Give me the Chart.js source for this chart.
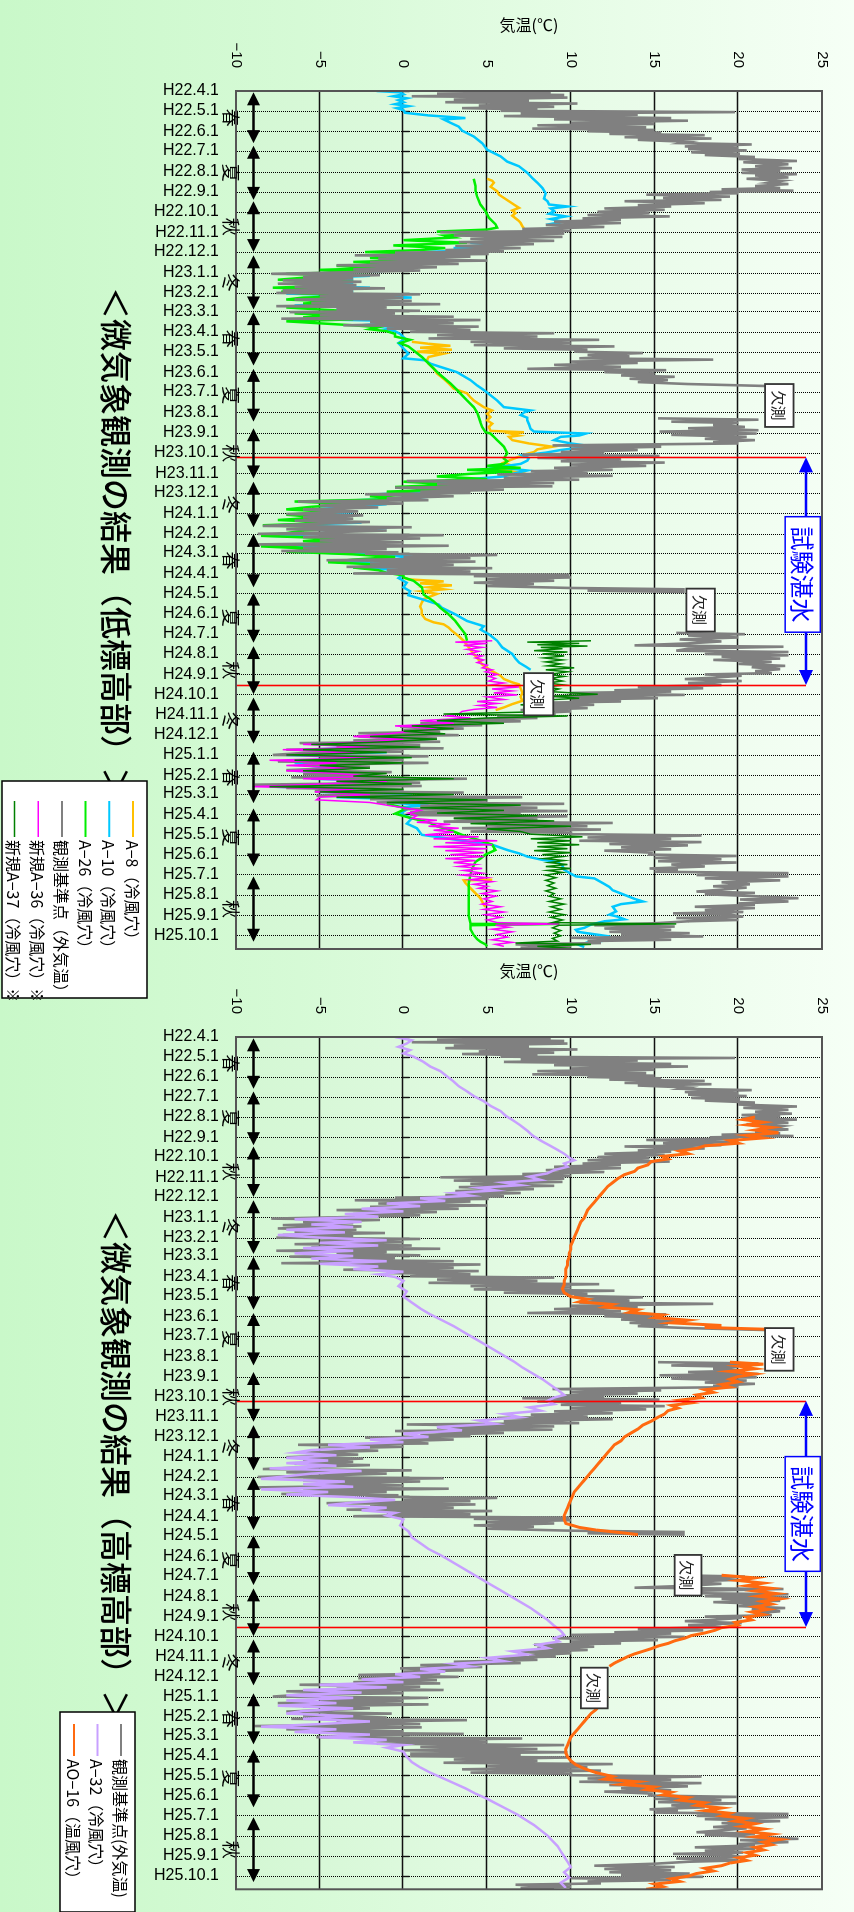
<!DOCTYPE html>
<html>
<head>
<meta charset="utf-8">
<script src="https://cdn.jsdelivr.net/npm/chart.js@4.4.1/dist/chart.umd.min.js"></script>
<style>
  html, body { margin: 0; padding: 0; }
  body {
    width: 854px; height: 1912px; overflow: hidden; position: relative;
    background: linear-gradient(to right, #c9f8c9 0%, #d6fad6 35%, #f6fff6 100%);
  }
  /* the two charts are laid out landscape and turned a quarter turn clockwise */
  #stage {
    position: absolute; left: 0; top: 0; width: 1912px; height: 854px;
    transform-origin: 0 0; transform: translate(854px, 0) rotate(90deg);
  }
  #stage canvas { position: absolute; top: 0; display: block; }
</style>
</head>
<body>
<div id="stage">
  <canvas id="low" width="1000" height="854" style="left:0"></canvas>
  <canvas id="high" width="972" height="854" style="left:940px"></canvas>
</div>
<script>
// ---- dates: x values are days counted from H22.4.1 (2010-04-01) ----
const START = Date.UTC(2010, 3, 1);
function dayOf(y, m, d) { return Math.round((Date.UTC(y, m - 1, d) - START) / 86400000); }
function heiseiDay(label) {
  const [h, m, d] = label.slice(1).split('.').map(Number);
  return dayOf(h + 1988, m, d);
}

const monthLabels = [
  'H22.4.1','H22.5.1','H22.6.1','H22.7.1','H22.8.1','H22.9.1','H22.10.1','H22.11.1','H22.12.1',
  'H23.1.1','H23.2.1','H23.3.1','H23.4.1','H23.5.1','H23.6.1','H23.7.1','H23.8.1','H23.9.1','H23.10.1','H23.11.1','H23.12.1',
  'H24.1.1','H24.2.1','H24.3.1','H24.4.1','H24.5.1','H24.6.1','H24.7.1','H24.8.1','H24.9.1','H24.10.1','H24.11.1','H24.12.1',
  'H25.1.1','H25.2.1','H25.3.1','H25.4.1','H25.5.1','H25.6.1','H25.7.1','H25.8.1','H25.9.1','H25.10.1'
];
const monthDays = monthLabels.map(heiseiDay);
const tempTicks = [-10, -5, 0, 5, 10, 15, 20, 25];
const tempTickLabels = ['\u221210', '\u22125', '0', '5', '10', '15', '20', '25'];

// season bands (day ranges) drawn as double arrows under the plot
const seasonNames = ['春','夏','秋','冬','春','夏','秋','冬','春','夏','秋','冬','春','夏','秋'];
const seasonFrom  = [2, 83, 167, 249, 335, 421, 511, 592, 671, 760, 841, 919, 1001, 1087, 1190];
const seasonTo    = [79, 165, 244, 331, 416, 501, 587, 661, 752, 836, 914, 989, 1079, 1175, 1289];

// test impoundment period (試験湛水)
const impoundFrom = dayOf(2011, 10, 8);
const impoundTo = dayOf(2012, 9, 17);

// ---- series: [day, °C]; null marks missing observations ----
const outdoorTemp = [
  [0,4],[2,8.8],[4,2],[6,9.6],[8,0.5],[10,9.8],[13,3],[15,7.5],[17,2.5],[19,10.4],[22,4.5],[24,9],[26,3.5],[28,8],
  [30,5.8],[32,19.8],[34,7],[36,14],[38,6],[41,16],[43,9],[45,17],[48,10],[50,15],[52,8],[55,14.5],[57,7.7],[59,15],
  [61,11],[63,15.4],[65,12.3],[67,18],[70,13.2],[72,18.4],[74,14],[77,17],[79,16.6],[81,20.8],[84,16.8],[86,20],[88,17],[90,20.5],
  [93,17.2],[95,20.1],[97,18],[100,21],[103,20],[106,23.5],[108,20.3],[111,23],[114,21],[117,23.2],[119,20.2],[121,22.5],
  [124,20.2],[126,23.5],[128,21],[131,23],[133,20.5],[136,22.6],[139,21.8],[141,23],[144,21],[147,22.5],[149,19],[151,23.3],
  [153,18.3],[155,20],[157,14.5],[160,19.5],[162,15.5],[165,19],[167,13.2],[170,18],[173,14],[175,16],[178,12],[180,15.6],
  [183,11.6],[185,14.7],[188,11],[190,15.9],[193,10.7],[195,13],[198,9],[200,13],[203,8.5],[206,12],[209,7.1],[212,10],
  [214,2.2],[216,9.6],[219,3],[221,9.5],[224,4],[227,9],[229,3.3],[232,7.8],[235,3.1],[238,7],[241,2.5],[243,6],
  [245,-0.5],[247,5.1],[249,-2.9],[251,4],[254,-1.5],[257,5],[259,-2],[262,3.3],[264,-4],[267,2],[270,-3],[272,1],
  [275,-4],[277,-7.9],[279,-1.4],[282,-6],[284,-3],[287,-7.2],[289,-2.5],[292,-7.5],[294,-2.8],[297,-6.5],[299,-1.1],[302,-7.2],[304,-3],
  [306,-7.6],[308,1],[311,-5],[313,0],[316,-6.5],[318,0.5],[321,-5.5],[323,2.2],[326,-7.6],[328,-1],[331,-4],[333,1],
  [335,-6.8],[337,-0.5],[340,-5],[342,3],[345,-7.3],[347,4.6],[350,-2],[352,3],[355,-3.6],[357,4.5],[360,-1],[362,4],
  [365,0.4],[367,9],[370,2],[372,8],[375,1.5],[377,11.7],[380,4],[382,10],[385,4.2],[387,12.6],[390,6],[392,11],
  [395,10.2],[397,14.3],[400,11],[402,13.5],[405,10.5],[407,18.5],[410,10],[412,14],[415,9],[418,13],[421,7.4],[423,15.7],
  [426,12],[428,15],[431,13],[433,16.2],[436,13.5],[438,15.8],[441,14],[444,17],[447,21.7],[448,null],
  [496,15.2],[498,21.2],[501,16],[503,20],[506,18.5],[509,20.4],[511,17],[514,21.2],[516,15.3],
  [519,21.1],[521,16],[524,20.5],[527,18],[529,21],[532,18.5],[534,20],[537,8.9],[539,15.4],[542,10],[544,14],[547,9.4],
  [549,12],[551,7.1],[553,15.3],[556,8],[558,13],[561,9.4],[563,15.6],[566,10],[568,14.5],[571,9],[574,12.5],[576,7.6],
  [579,11],[581,5.6],[583,12.5],[586,6],[589,10.5],[591,0.2],[594,9],[596,2],[599,8.9],[601,-0.5],[604,6],[607,1],
  [609,4],[611,-2.3],[614,3],[617,-1],[620,1.5],[622,-6.3],[625,0],[628,-5],[631,-1.5],[634,-6],[637,-2.7],[639,-5],
  [641,-7],[643,-2.4],[646,-6],[648,-3],[651,-6.5],[653,-2],[656,-5.5],[659,-8.4],[661,0.5],[664,-7],[666,-1],[669,-5],
  [671,-8.7],[673,2.4],[676,-6],[678,1],[681,-5],[684,0],[687,-8.7],[689,2.7],[692,-6],[694,-1],[697,-7.3],[699,-0.3],
  [701,-2.3],[703,5.6],[706,0],[708,4],[711,-4.6],[713,4.3],[716,-2],[718,3],[721,-3.4],[723,5.3],[726,-1],[728,4],[731,-3],
  [733,9.9],[735,4.2],[737,10],[740,5],[742,9],[745,4.2],[747,7.8],[750,5],[753,10],[755,16.8],[757,11],[759,16.8],[760,null],
  [821,16.3],[823,20.4],[825,17],[828,20],[831,16.5],[834,19],[837,17],[840,13.8],[842,22.7],[845,17],[848,16.3],[850,23],
  [853,18],[855,23],[857,19],[860,22.5],[862,18.5],[865,22],[868,20],[871,22.8],[873,20.8],[876,22.5],[879,21],[882,22],
  [884,18],[886,20.2],[889,18.5],[891,16.8],[894,20.2],[897,17],[900,19],[903,14],[905,17.9],[908,12.6],[910,16],[912,10],
  [915,16.8],[917,8.9],[920,15.2],[922,10],[925,13],[927,7.8],[930,11.4],[932,8],[935,11],[938,7],[940,10],[943,7.5],
  [945,9.1],[947,5.6],[950,8],[953,3],[955,7],[958,1],[961,4.7],[963,-0.2],[966,3.6],[968,0],[971,2.2],[973,-2.7],
  [976,3.3],[978,-2.7],[981,2],[984,-3],[986,2.2],[988,-6.2],[991,1],[994,-4],[996,2.4],[998,-7],[1001,0],[1003,-6],
  [1006,-7.8],[1008,1.5],[1011,-5],[1013,0],[1016,-7.5],[1018,1.5],[1021,-6],[1024,-2],[1027,-5],[1029,-7],[1032,-0.7],[1035,-6],
  [1038,-1],[1040,-6.7],[1042,3.8],[1045,-4],[1048,1],[1051,-8.9],[1053,1.1],[1056,-7],[1059,0],[1061,-5.3],[1063,3.6],[1065,-3],
  [1068,-5.2],[1070,7.1],[1073,-2],[1075,5],[1078,-1.6],[1080,9.6],[1083,1],[1086,8],[1088,0],[1091,9.8],[1093,0.4],[1095,7],
  [1097,0.4],[1099,9.8],[1102,3],[1104,8],[1107,2.4],[1109,12.5],[1112,5],[1114,11],[1117,3.5],[1119,11.8],[1122,4],[1124,10],
  [1126,10],[1128,17.8],[1131,11],[1133,16],[1136,10.5],[1138,17.8],[1141,12.3],[1143,17],[1146,13],[1149,16],[1151,12],[1154,14.8],
  [1157,14.7],[1159,19.9],[1162,15],[1164,19],[1167,15.2],[1169,19.9],[1172,16],[1175,18],[1178,14.7],[1180,16.4],[1183,15],[1185,23],
  [1188,17.5],[1190,23],[1193,18],[1196,22.5],[1199,19],[1202,20.7],[1205,18.5],[1207,20.5],[1210,19],[1213,17.5],[1215,21],[1217,18],
  [1220,21],[1223,23.6],[1225,20.1],[1228,23],[1231,20],[1233,21],[1236,17.4],[1238,21],[1241,18],[1244,20.3],[1246,16.1],[1248,19.5],
  [1251,20.3],[1253,16.3],[1256,20],[1258,17],[1261,15],[1264,11.4],[1266,16.2],[1269,12],[1271,16],[1274,12.3],[1276,17.1],[1278,13],
  [1281,17.9],[1283,10],[1286,16],[1288,11],[1291,11.8],[1293,6.7],[1296,10],[1298,7],[1300,9]
];

const a8Temp = [
  [133,5],[136,5.3],[139,5.4],[145,5.2],[152,5.6],[157,5.7],[162,6],[167,6.3],[172,6.6],[177,6.9],[181,6.5],[185,6.7],
  [189,6.5],[193,6.7],[197,6.9],[200,7],[205,7.1],[208,7.2],[209,null],
  [380,0.5],[383,1.5],[386,2.8],[389,1],[392,2.9],[395,0.8],[398,2.4],[403,1.5],[408,1.4],[413,1.5],[420,1.8],[428,2],
  [436,2.4],[443,2.7],[451,3],[458,3.8],[464,4],[469,4.2],[474,4.5],[479,4.8],[484,5.3],[489,5],[494,5.2],[499,5],
  [504,5.3],[509,5.1],[515,5.2],[517,7.2],[519,6.4],[522,6.9],[524,6.3],[529,6.5],[534,7.5],[539,8.9],[543,8],[547,7.8],
  [551,7.2],[554,6.9],[558,6.5],[563,6],[568,6.5],[573,5.6],[578,6.9],[582,6],[583,null],
  [737,0],[740,0.3],[743,2.4],[746,1],[749,2.9],[752,1.5],[755,2.4],[758,1.1],[762,2],[765,1.7],[770,1.2],[775,1.1],
  [781,1],[787,1.1],[793,1.1],[800,1.3],[805,1.8],[808,2.4],[813,2.7],[818,2.9],[826,3.3],[833,3.6],[843,3.9],[853,4.2],
  [862,4.5],[869,4.7],[879,5.3],[886,5.8],[891,6],[896,6.5],[899,6.9],[905,7],[912,7.1],[918,7],[924,7.1],[929,6.5],
  [934,6],[938,5.5],[939,null],
  [1195,5.3],[1196,3.6],[1200,3.7],[1205,3.9],[1213,4.2],[1218,4.4],[1223,4.6],[1228,4.7],[1233,4.8],[1236,4.9]
];

const a10Temp = [
  [0,-1.6],[2,-0.2],[5,0],[8,-0.6],[11,0.2],[14,-0.3],[17,0],[20,-0.5],[23,0.3],[26,-0.4],[29,0],[33,0.1],[37,1.5],
  [41,3.7],[43,2.4],[48,2.8],[54,3.3],[60,3.5],[69,4.2],[79,4.7],[89,5],[99,5.8],[107,6.2],[114,6.9],[124,7.4],[132,7.7],
  [139,8],[147,8.3],[155,8.5],[163,8.4],[167,8.6],[172,8.7],[175,9.8],[178,8.8],[182,9],[186,8.7],[190,9.7],[194,8.8],
  [198,9.5],[201,8.9],[204,9.7],[207,9.5],
  [210,8],[213,9],[216,6],[219,7.5],[222,5],[226,7],[230,4],[234,6],[238,3],[241,5],[244,1],[247,3.5],[250,-1],[253,2.5],
  [256,-0.5],[259,1.5],[262,-2],[265,0.5],[268,-3],[271,0],[274,-2.5],[277,-6],[280,-2],[283,-5],[286,-3],[289,-6.5],
  [292,-3],[295,-6],[298,-2],[301,-7.2],[304,-3],[307,-7],[310,-2],[313,0.5],[316,-6],[319,-1],[322,-4],[325,-6.5],
  [328,-1.5],[331,-4],[334,-1],[337,-5],[340,-3],[343,0],[346,-5],[349,0.5],[352,-1],[355,-2.5],[358,0],[361,-1],[364,-0.5],
  [368,-0.2],[375,0.1],[382,-0.3],[390,0],[398,0.3],[405,0],[408,1.3],[413,1.6],[418,2.2],[426,3.2],[432,3.6],[438,4],
  [446,4.4],[453,4.8],[461,5.2],[469,5.6],[479,6],[484,7.6],[487,7.2],[491,7],[495,7.4],[499,7.4],[505,7.5],[512,7.6],
  [516,7.8],[519,10.9],[522,10.5],[524,9.4],[529,9],[534,10],[539,11.4],[542,10],[544,9.4],[548,8.5],[552,7.1],[556,7.5],
  [560,7.4],[565,7],[570,5.6],[575,7.4],[580,6.5],
  [584,6],[588,4],[592,2],[596,3.5],[600,1],[604,4],[607,1.5],[611,-1.5],[614,2],[618,-0.5],[622,-5],[626,-1],[630,-3],
  [634,-5.5],[638,-3],[642,-6.5],[646,-4],[650,-6],[654,-2.5],[658,-7.5],[662,-1],[666,-3],[670,-5],[674,-8],[678,-1],
  [682,-5],[686,-2],[690,-8],[694,-2],[698,-6.5],[702,-2],[706,1],[710,-1],[714,-4],[718,1],[722,-3],[726,0],[730,-1],
  [732,0],[738,-0.3],[745,0.2],[752,0],[758,0.4],[764,0.3],[770,1.1],[778,2.1],[783,2.3],[793,3.1],[803,3.8],[811,4.8],
  [816,4.6],[823,5.1],[833,5.6],[843,5.9],[853,6.5],[860,6.7],[866,6.9],[872,7.3],[877,7.6],[878,null],
  [945,8],[950,6.5],[954,3],[958,1.5],[962,3.5],[966,1],[970,1.5],[974,2],[978,-2],[982,1.5],[986,-1],[990,-5],[994,-1],
  [998,-6],[1002,-1],[1006,-7],[1010,-2],[1014,-1],[1018,-6.5],[1022,-3],[1026,-5],[1030,-6.5],[1034,-2],[1038,-2],
  [1042,-5.5],[1046,0],[1050,-4],[1054,-8],[1058,-2],[1062,-5],[1066,0.5],[1070,-4],[1074,1],[1078,-1],[1082,1.5],[1085,0],
  [1087,0.3],[1095,-0.2],[1102,0.5],[1110,0.2],[1117,0.8],[1127,1.1],[1132,2.5],[1137,3.8],[1142,5.3],[1150,6.2],
  [1155,6.9],[1160,7.4],[1165,8.3],[1168,9.2],[1174,9.5],[1180,9.6],[1186,10],[1190,10.3],[1193,11.4],[1200,11.9],
  [1206,12.3],[1211,12.5],[1218,13.2],[1224,13.8],[1228,14.3],[1232,13],[1236,12.5],[1243,12.7],[1248,12.3],[1251,12.8],
  [1255,13.2],[1258,12],[1263,11.2],[1268,10.8],[1271,10.3],[1274,10.4],[1278,11.5],[1281,12.3],[1286,12.5],[1290,11],
  [1294,10.5],[1297,10.8]
];

const a26Temp = [
  [133,4.2],[144,4.3],[151,4.3],[160,4.4],[172,4.6],[182,4.9],[192,5.1],[202,5.5],[207,5.6],
  [210,5],[213,2],[216,5.5],[219,2.5],[222,3],[226,0],[230,3.8],[234,-0.6],[238,2.5],[241,1],[244,-2.3],[247,1.8],
  [250,-1],[253,-2],[256,1],[259,-3],[262,0],[265,-4],[268,-1],[271,-5],[274,-2],[277,-7],[280,-3],[283,-6],[286,-7.5],
  [289,-3],[292,-6],[295,-4],[298,-7.8],[301,-4],[304,-7.3],[307,-6],[310,-2],[313,-6],[316,-7],[319,-4],[322,-6],
  [325,-3],[328,-7],[331,-5],[334,-3],[337,-6.5],[340,-4],[343,-6],[346,-3],[349,-7],[352,-5],[355,-3],[358,-1.5],
  [361,-2],[364,-1],[368,-0.5],
  [372,-0.5],[377,0.4],[382,-0.2],[387,0.3],[393,0.6],[403,1.1],[413,1.5],[428,2.1],[443,2.8],[453,3.2],[469,3.8],
  [479,4.2],[487,4.4],[494,4.5],[502,4.6],[509,4.7],[517,4.9],[519,5.2],[524,5.4],[529,5.6],[534,5.8],[539,6],[544,6.1],
  [549,6.2],[553,6.1],[557,6],[561,6.2],[565,6],[568,5],[571,7],[574,3.8],[577,6.5],[580,4],
  [584,2],[588,5],[592,0],[596,3],[600,-0.5],[604,2.5],[607,-1],[611,1],[614,-2],[618,0],[622,-6.5],[626,-3],[630,-5.5],
  [634,-7],[638,-4],[642,-7],[646,-5],[650,-7.5],[654,-4],[658,-8.4],[662,-3],[666,-6],[670,-7],[674,-8.5],[678,-4],
  [682,-6],[686,-3],[690,-8.5],[694,-5],[698,-7],[702,-3],[706,-0.5],[710,-3],[714,-4.5],[718,-1],[722,-3],[726,-1.5],
  [730,-1],[734,0],
  [737,0],[742,0.6],[752,1.1],[763,1.2],[773,1.8],[783,2.2],[793,2.7],[803,3.1],[813,3.4],[823,3.7],[833,3.8],[834,null],
  [1080,-1],[1087,0.2],[1095,-0.5],[1102,0.5],[1108,1.5],[1114,2],[1120,2.8],[1127,3.5],[1135,4.5],[1142,5.3],[1150,5.5],
  [1157,4.9],[1163,4.6],[1168,4.3],[1178,4.1],[1188,4],[1200,3.9],[1218,3.9],[1235,3.9],[1250,3.9],[1261,4],[1262,9.3],
  [1264,4],[1270,4],[1279,4.2],[1285,4.4],[1289,4.6],[1293,4.9],[1296,5]
];

const a36Temp = [
  [833,5.3],[835,3.1],[837,5],[840,3.6],[843,4.7],[846,3.8],[849,4.5],[853,3.9],[856,4.7],[859,4.3],[862,4.8],[866,4.4],
  [870,5],[874,4.7],[877,5.3],[880,4.9],[884,5.6],[887,5.1],[890,5.5],[894,5.1],[897,6],[900,5.2],[903,6.9],[906,5.3],
  [909,6.5],[912,5.4],[915,6.8],[918,5],[922,6],[925,4.4],[928,5.6],[931,4.5],[934,5.6],[937,4.2],[940,3.5],[944,3.3],
  [947,2.6],[950,4],[954,1],[958,3],[962,-0.5],[966,2],[970,0.5],[974,-1],[978,-3],[982,0],[986,-2],[990,-6],[994,-2],
  [998,-7.2],[1002,-3],[1006,-7],[1010,-2],[1014,-8],[1018,-4],[1022,-7],[1026,-3],[1030,-7],[1034,-4],[1038,-2],
  [1042,-6],[1046,-1],[1050,-5],[1054,-9],[1058,-3],[1062,-5.3],[1066,-2],[1070,-5],[1074,-5.2],[1078,-2],[1082,-1],
  [1086,0],[1090,1],[1094,0.3],[1098,0.8],[1102,0.5],[1105,2],[1108,0.8],[1111,2.8],[1114,1.5],[1117,3.3],[1120,1.8],
  [1123,3],[1127,1.3],[1130,4.5],[1133,1.8],[1136,5.6],[1139,2.5],[1142,5.3],[1145,1.8],[1148,5],[1151,2.5],[1154,4.8],
  [1157,2.8],[1160,4.8],[1163,2.5],[1166,4.3],[1169,3],[1172,4.3],[1175,3.3],[1178,4.7],[1181,3.6],[1185,4.7],[1188,3.5],
  [1192,5],[1195,4],[1198,5.3],[1202,4.2],[1205,5],[1208,4.5],[1212,5.6],[1216,4.7],[1220,5.5],[1224,4.8],[1228,5.3],
  [1232,4.7],[1236,5.8],[1240,4.8],[1244,6],[1248,4.9],[1252,5.8],[1256,5],[1260,5.6],[1262,9.3],[1264,5.5],[1267,6.3],
  [1270,5.3],[1274,6.5],[1278,5.6],[1282,6.2],[1286,5.3],[1290,6.5],[1293,5.5],[1296,6]
];

const a37Temp = [
  [833,11.2],[835,7.4],[837,10.5],[839,8],[841,11],[843,8.2],[845,9.5],[848,7.8],[850,9.8],[853,8.3],[856,9.6],[859,8.4],
  [862,9.5],[865,8.5],[868,9.4],[871,8.6],[874,10.2],[877,8.5],[880,9.8],[884,8.7],[887,9.6],[890,8.8],[894,9.5],[897,8.6],
  [900,9.6],[903,8.5],[906,9.3],[910,8.7],[914,11.6],[917,8.9],[920,10.5],[924,7.5],[927,8.9],[930,7],[933,8.5],[936,7.5],
  [940,9],[944,2.4],[947,9.8],[950,5],[954,2],[958,6],[962,0.5],[966,3],[970,0],[974,2.5],[978,-2],[982,2],[986,-1],
  [990,-5.5],[994,1],[998,-6],[1002,-1],[1006,-7],[1010,0.5],[1014,-6.5],[1018,0],[1022,-5],[1026,-2],[1030,-6],[1034,-1],
  [1038,-3],[1042,3],[1046,-4],[1050,0.5],[1054,-8],[1058,0],[1062,-5],[1066,3],[1070,-4],[1074,5],[1078,-1],[1082,7],
  [1086,1],[1090,6],[1094,2],[1098,8],[1102,3],[1106,9],[1110,4],[1114,10],[1118,5],[1122,7],[1126,7.6],
  [1130,10.7],[1133,7.6],[1136,10],[1139,8],[1142,10.5],[1145,8],[1148,9.8],[1151,7.8],[1154,10],[1157,8.3],[1160,9.5],
  [1163,8.4],[1166,9.6],[1169,8.7],[1172,9.8],[1175,8.5],[1178,10],[1181,8.6],[1184,9.5],[1188,8.5],[1192,9.1],[1196,8.5],
  [1200,9],[1204,8.6],[1208,9.1],[1212,8.5],[1216,9],[1220,8.7],[1224,9.4],[1228,8.7],[1232,9.6],[1236,8.8],[1240,9.4],
  [1244,8.7],[1248,9.6],[1252,8.8],[1256,9.5],[1260,8.9],[1262,16.3],[1264,9.3],[1268,8.9],[1272,9.4],[1276,9],[1280,9.4],
  [1284,8.9],[1288,9.2],[1291,6.7],[1293,11.2],[1296,8],[1299,10]
];

const a32Temp = [
  [0,-0.5],[5,0.5],[10,0.2],[15,-0.3],[20,0.4],[25,0],[30,0.6],[38,1.2],[45,1.6],[52,2.2],[60,2.6],[68,3],[75,3.3],
  [83,3.8],[90,4.2],[98,4.8],[105,5.2],[113,5.8],[120,6.1],[128,6.6],[135,7],[143,7.4],[150,7.7],[158,8.2],[165,8.7],
  [172,9.2],[178,9.6],[184,9.9],[188,10.2],[193,9.6],[198,9.8],[203,9],[208,8.6],[213,7.5],[218,8.2],[222,6],[226,7],
  [230,4.5],[234,5.5],[238,3],[242,4],[246,1],[250,2.5],[254,-1],[258,1],[262,-2.5],[266,0],[270,-3.5],[274,-1.5],
  [278,-6.5],[282,-2.5],[286,-5.5],[290,-3],[294,-7],[298,-3.5],[302,-7.5],[306,-5],[310,-1],[314,-5],[318,-1.5],
  [322,-6],[326,-3],[330,-6.5],[334,-3],[338,-5.5],[342,-1],[346,-5],[350,-1.5],[354,-3],[358,0],[362,-1.5],[366,-0.5],
  [372,0],[380,-0.3],[388,0.2],[396,0],[405,0.5],[414,1],[423,1.6],[432,2.3],[441,3],[450,3.6],[459,4.2],[468,4.8],
  [477,5.4],[486,6],[495,6.6],[504,7.1],[513,7.7],[522,8.3],[531,8.8],[540,9.3],[546,9.6],[550,9],[555,8.6],[560,9],
  [565,7.5],[570,8.2],[575,6],[580,7],[585,4.5],[590,5.5],[595,2],[600,3.5],[605,0],[610,1.5],[614,-2],[618,0],[622,-4.5],
  [626,-2],[630,-5.5],[634,-6.5],[638,-4],[642,-7],[646,-4.5],[650,-7],[654,-4],[658,-8],[662,-2.5],[666,-5.5],[670,-7],
  [674,-8.5],[678,-3.5],[682,-6],[686,-3],[690,-8.5],[694,-4.5],[698,-7],[702,-3],[706,-0.5],[710,-3],[714,-4.5],
  [718,-1],[722,-2.5],[726,-0.5],[730,-1],[736,0],[745,-0.2],[754,0.3],[763,0.5],[772,1],[781,1.5],[790,2.2],[799,2.8],
  [808,3.4],[817,4],[826,4.6],[835,5.2],[844,5.8],[853,6.4],[862,7],[871,7.6],[880,8.1],[889,8.6],[898,9],[906,9.4],
  [912,9.6],[917,9],[922,9.3],[927,8],[932,8.6],[937,6.5],[942,7.4],[947,5],[952,6],[956,3],[960,4],[964,1],[968,2.5],
  [972,-0.5],[976,1],[980,-2.5],[984,0],[988,-5],[992,-1],[996,-6],[1000,-2.5],[1004,-7],[1008,-3],[1012,-7],[1016,-4],
  [1020,-7.5],[1024,-3],[1028,-6],[1032,-7],[1036,-3],[1040,-6],[1044,-2],[1048,-5],[1052,-8.5],[1056,-4],[1060,-6.5],
  [1064,-2],[1068,-5],[1072,-1],[1076,-3],[1080,0],[1084,-1],[1090,0],[1098,0.2],[1106,0.5],[1114,1],[1122,1.6],
  [1130,2.3],[1138,3],[1146,3.7],[1154,4.3],[1162,5],[1170,5.6],[1178,6.2],[1186,6.8],[1194,7.3],[1202,7.8],[1210,8.2],
  [1218,8.6],[1226,8.9],[1234,9.2],[1242,9.4],[1250,9.6],[1258,9.8],[1266,10],[1274,9.6],[1282,9.9],[1290,9.4],[1298,9.7]
];

const ao16Temp = [
  [122,21],[126,20.3],[130,21.5],[134,20.5],[138,22],[142,21],[146,22.4],[150,20.5],[154,21.5],[158,19.5],[162,20],
  [166,18],[170,17.5],[174,16.5],[178,17],[182,15.5],[186,15.8],[190,14.8],[195,14.6],[200,14],[205,13.8],[210,13.2],
  [216,12.8],[222,12.5],[228,12.2],[234,12],[240,11.8],[246,11.6],[252,11.4],[258,11.2],[264,11],[270,10.9],[276,10.8],
  [282,10.6],[288,10.5],[294,10.4],[300,10.3],[306,10.2],[312,10.1],[318,10],[324,10],[330,9.9],[336,9.9],[342,9.8],
  [348,9.8],[354,9.7],[360,9.7],[366,9.7],[372,9.6],[378,9.6],[384,9.5],[390,9.6],[396,10],[400,11],[404,10.5],
  [408,12.5],[412,12],[416,14],[420,13.5],[424,15.5],[428,15],[432,17],[436,16],[440,19],[443,18],[446,22],[448,null],
  [496,19.5],[499,21.5],[502,20],[506,21],[510,19.5],[514,21],[518,20],[522,19.5],[526,20],[530,19],[534,19.5],
  [538,18],[542,18.5],[546,17.5],[550,17.8],[554,16.5],[558,17.2],[562,16],[566,16.4],[570,15.8],[575,15.6],[580,15.2],
  [586,14.8],[592,14.3],[598,14],[604,13.6],[610,13.2],[616,13],[622,12.6],[628,12.4],[634,12.2],[640,12],[646,11.8],
  [652,11.6],[658,11.4],[664,11.2],[670,11],[676,10.8],[682,10.6],[688,10.4],[694,10.2],[700,10.1],[706,10],[712,9.9],
  [718,9.8],[724,9.7],[730,9.6],[736,9.6],[742,9.7],[748,10.5],[752,11.5],[756,13],[759,14],[760,null],
  [821,19],[825,21],[829,20],[833,21.5],[837,20.5],[841,22],[845,21],[849,22.3],[853,21.2],[857,22.5],[861,21.4],
  [865,22],[869,21],[873,21.8],[877,20.8],[881,21.5],[885,20.5],[889,20.8],[893,19.8],[897,20],[901,19],[905,18.6],
  [909,18],[913,17.2],[917,16.8],[921,16.2],[925,15.8],[929,15.2],[933,14.8],[937,14.3],[941,13.8],[945,13.4],
  [950,13],[955,12.6],[960,12.3],[961,null],
  [1005,12.2],[1010,12],[1015,11.8],[1020,11.7],[1026,11.5],[1032,11.2],[1038,11],[1044,10.8],
  [1050,10.6],[1056,10.4],[1062,10.2],[1068,10],[1074,9.9],[1080,9.8],[1086,9.7],[1092,9.7],[1098,9.8],[1104,10],
  [1110,10.3],[1116,10.8],[1122,11.5],[1128,12.5],[1132,12],[1136,14],[1140,13],[1144,15],[1148,14.5],[1152,16],
  [1156,15.5],[1160,17],[1164,16.5],[1168,18],[1172,17.5],[1176,19],[1180,18],[1184,19.5],[1188,19],[1192,20.5],
  [1196,19.8],[1200,21],[1204,20.2],[1208,21.5],[1212,20.5],[1216,22],[1220,21],[1224,22.5],[1228,21.5],[1232,22],
  [1236,21],[1240,21.5],[1244,20.5],[1248,21],[1252,20],[1256,20.5],[1260,19.5],[1264,19],[1268,18],[1272,18.5],
  [1276,17.5],[1280,17],[1284,16],[1288,16.5],[1292,15],[1296,15.5],[1300,14.5]
];

// ---- drawing helpers ----
const JP = '"Noto Sans CJK JP", "Noto Sans", sans-serif';
const LAT = '"Liberation Sans", Arial, sans-serif';

function arrowHead(ctx, x, y, dirX, dirY, len, half) {
  ctx.beginPath();
  ctx.moveTo(x, y);
  ctx.lineTo(x - dirX * len - dirY * half, y - dirY * len + dirX * half);
  ctx.lineTo(x - dirX * len + dirY * half, y - dirY * len - dirX * half);
  ctx.closePath();
  ctx.fill();
}
function doubleArrowH(ctx, x0, x1, y, len, half, width, color) {
  ctx.strokeStyle = color; ctx.fillStyle = color; ctx.lineWidth = width;
  ctx.beginPath(); ctx.moveTo(x0 + len * 0.5, y); ctx.lineTo(x1 - len * 0.5, y); ctx.stroke();
  arrowHead(ctx, x0, y, -1, 0, len, half);
  arrowHead(ctx, x1, y, 1, 0, len, half);
}

const decor = {
  id: 'decor',
  beforeDraw(chart) {
    const { ctx, chartArea: a } = chart;
    ctx.save();
    const g = ctx.createLinearGradient(0, a.bottom, 0, a.top);
    g.addColorStop(0, '#d3f7d3');
    g.addColorStop(1, '#f4fef4');
    ctx.fillStyle = g;
    ctx.fillRect(a.left, a.top, a.right - a.left, a.bottom - a.top);
    ctx.restore();
  },
  beforeDatasetsDraw(chart) {
    const { ctx, chartArea: a, scales: { x, y } } = chart;
    ctx.save();
    // monthly dotted lines
    ctx.strokeStyle = '#000'; ctx.lineWidth = 1; ctx.setLineDash([1, 1]);
    monthDays.forEach(d => {
      const px = Math.round(x.getPixelForValue(d)) + 0.5;
      if (px <= a.left + 1) return;
      ctx.beginPath(); ctx.moveTo(px, a.top); ctx.lineTo(px, a.bottom); ctx.stroke();
    });
    // temperature grid
    ctx.setLineDash([]); ctx.lineWidth = 1.4; ctx.strokeStyle = '#111';
    tempTicks.slice(1, -1).forEach(t => {
      const py = Math.round(y.getPixelForValue(t)) + 0.5;
      ctx.beginPath(); ctx.moveTo(a.left, py); ctx.lineTo(a.right, py); ctx.stroke();
    });
    // short tick marks of the date axis, which crosses at 0 °C
    const y0 = Math.round(y.getPixelForValue(0)) + 0.5;
    ctx.lineWidth = 1.4;
    monthDays.forEach(d => {
      const px = Math.round(x.getPixelForValue(d)) + 0.5;
      ctx.beginPath(); ctx.moveTo(px, y0); ctx.lineTo(px, y0 - 7); ctx.stroke();
    });
    ctx.restore();
  },
  afterDatasetsDraw(chart, args, o) {
    const { ctx, chartArea: a, scales: { x, y } } = chart;
    const X = d => x.getPixelForValue(d);
    const Y = t => y.getPixelForValue(t);
    ctx.save();

    // impoundment period: red limits and blue double arrow with its label
    ctx.strokeStyle = '#ff0000'; ctx.lineWidth = 1.6;
    [impoundFrom, impoundTo].forEach(d => {
      const px = Math.round(X(d)) + 0.5;
      ctx.beginPath(); ctx.moveTo(px, Y(-10)); ctx.lineTo(px, Y(o.redTop)); ctx.stroke();
    });
    doubleArrowH(ctx, X(impoundFrom), X(impoundTo), Y(o.arrowTemp), 15, 7, 2.5, '#0000ff');
    const b = o.impoundBox;
    const bx0 = X(b.from), bx1 = X(b.to), by0 = Y(b.hi), by1 = Y(b.lo);
    ctx.fillStyle = '#fff'; ctx.fillRect(bx0, by0, bx1 - bx0, by1 - by0);
    ctx.strokeStyle = '#0000ff'; ctx.lineWidth = 1.5; ctx.strokeRect(bx0, by0, bx1 - bx0, by1 - by0);
    ctx.fillStyle = '#0000ff'; ctx.font = '24px ' + JP; ctx.textAlign = 'center'; ctx.textBaseline = 'middle';
    ctx.fillText('試験湛水', (bx0 + bx1) / 2, (by0 + by1) / 2 + 1);

    // missing-data notes
    o.notes.forEach(n => {
      const nx0 = X(n.from), nx1 = X(n.to), ny0 = Y(n.hi), ny1 = Y(n.lo);
      ctx.fillStyle = '#fff'; ctx.fillRect(nx0, ny0, nx1 - nx0, ny1 - ny0);
      ctx.strokeStyle = '#333'; ctx.lineWidth = 1.8; ctx.strokeRect(nx0, ny0, nx1 - nx0, ny1 - ny0);
      ctx.fillStyle = '#222'; ctx.font = '15px ' + JP;
      ctx.fillText('欠測', (nx0 + nx1) / 2, (ny0 + ny1) / 2 + 1);
    });

    // plot frame
    ctx.strokeStyle = '#555'; ctx.lineWidth = 2;
    ctx.strokeRect(a.left, a.top, a.right - a.left, a.bottom - a.top);

    // seasons
    const ay = a.bottom - 17.5;
    seasonNames.forEach((s, i) => {
      doubleArrowH(ctx, X(seasonFrom[i]), X(seasonTo[i]), ay, 13, 6.5, 2.5, '#000');
      ctx.fillStyle = '#000'; ctx.font = '18px ' + JP; ctx.textAlign = 'center'; ctx.textBaseline = 'middle';
      ctx.fillText(s, X((seasonFrom[i] + seasonTo[i]) / 2), a.bottom + 5);
    });

    // axis title
    ctx.save();
    ctx.translate(a.left - 66, (a.top + a.bottom) / 2);
    ctx.rotate(-Math.PI / 2);
    ctx.fillStyle = '#000'; ctx.font = '16px ' + JP; ctx.textAlign = 'center'; ctx.textBaseline = 'middle';
    ctx.fillText('気温(℃)', 0, 0);
    ctx.restore();

    // panel title
    ctx.fillStyle = '#000'; ctx.font = '500 32px ' + JP; ctx.textAlign = 'center'; ctx.textBaseline = 'middle';
    ctx.fillText(o.title, o.titleX, o.titleY);

    // legend
    const L = o.legend;
    ctx.fillStyle = '#fff'; ctx.fillRect(L.x, L.y, L.w, L.h);
    ctx.strokeStyle = '#000'; ctx.lineWidth = 1.5; ctx.strokeRect(L.x, L.y, L.w, L.h);
    ctx.font = '16px ' + JP; ctx.textAlign = 'left'; ctx.textBaseline = 'middle';
    chart.data.datasets.forEach((ds, i) => {
      const ry = L.y + L.first + i * L.step;
      ctx.strokeStyle = ds.borderColor; ctx.lineWidth = Math.min(ds.borderWidth, 2);
      ctx.beginPath(); ctx.moveTo(L.x + L.line0, ry); ctx.lineTo(L.x + L.line1, ry); ctx.stroke();
      ctx.fillStyle = '#000';
      ctx.fillText(ds.label, L.x + L.text, ry + 1);
    });
    ctx.restore();
  }
};

function series(label, pairs, color, width) {
  return {
    label, borderColor: color, borderWidth: width, backgroundColor: color,
    data: pairs.map(([d, t]) => ({ x: d, y: t })),
    pointRadius: 0, tension: 0, spanGaps: false, fill: false
  };
}

function makeChart(id, datasets, plotLeft, padRight, deco) {
  datasets.forEach((ds, i) => { ds.order = datasets.length - i; });
  return new Chart(document.getElementById(id), {
    type: 'line',
    data: { datasets },
    options: {
      responsive: false, animation: false, devicePixelRatio: 1,
      layout: { padding: { left: 0, right: padRight, top: 13, bottom: 0 } },
      plugins: { legend: { display: false }, tooltip: { enabled: false }, decor: deco },
      scales: {
        x: {
          type: 'linear', min: 0, max: 1300,
          grid: { display: false, drawTicks: false }, border: { display: false },
          afterBuildTicks: s => { s.ticks = monthDays.map(v => ({ value: v })); },
          afterFit: s => { s.height = 236; },
          ticks: {
            autoSkip: false, minRotation: 90, maxRotation: 90, padding: 17, color: '#000',
            font: { family: LAT, size: 16 },
            callback: (v, i) => monthLabels[i]
          }
        },
        y: {
          type: 'linear', min: -10, max: 25,
          grid: { display: false, drawTicks: false }, border: { display: false },
          afterBuildTicks: s => { s.ticks = tempTicks.map(v => ({ value: v })); },
          afterFit: s => { s.width = plotLeft; },
          ticks: {
            padding: 23, color: '#000', font: { family: LAT, size: 15 },
            callback: (v, i) => tempTickLabels[i]
          }
        }
      }
    },
    plugins: [decor]
  });
}

makeChart('low', [
  series('A\u22128（冷風穴）', a8Temp, '#ffc000', 2.5),
  series('A\u221210（冷風穴）', a10Temp, '#00c8ff', 2.5),
  series('A\u221226（冷風穴）', a26Temp, '#00ee00', 2.5),
  series('観測基準点（外気温）', outdoorTemp, '#808080', 2.6),
  series('新規A\u221236（冷風穴）※', a36Temp, '#ff00ff', 1.5),
  series('新規A\u221237（冷風穴）※', a37Temp, '#008000', 1.5)
], 91, 51, {
  redTop: 24.05, arrowTemp: 24.05,
  impoundBox: { from: 645, to: 820, lo: 22.8, hi: 24.9 },
  notes: [
    { from: 444, to: 509, lo: 21.6, hi: 23.3 },
    { from: 754, to: 819, lo: 16.9, hi: 18.6 },
    { from: 882, to: 946, lo: 7.2, hi: 8.95 }
  ],
  title: '＜微気象観測の結果（低標高部）＞', titleX: 543, titleY: 738,
  legend: { x: 781, y: 707, w: 217, h: 145, first: 14, step: 23.7, line0: 20, line1: 56, text: 59 }
});

makeChart('high', [
  series('観測基準点(外気温)', outdoorTemp, '#808080', 2.6),
  series('A\u221232（冷風穴）', a32Temp, '#c8a0ff', 2.5),
  series('AO\u221216（温風穴）', ao16Temp, '#ff6a10', 3)
], 97, 17, {
  redTop: 24.05, arrowTemp: 24.05,
  impoundBox: { from: 640, to: 815, lo: 22.8, hi: 24.9 },
  notes: [
    { from: 444, to: 509, lo: 21.6, hi: 23.3 },
    { from: 790, to: 852, lo: 16.2, hi: 17.8 },
    { from: 962, to: 1024, lo: 10.6, hi: 12.2 }
  ],
  title: '＜微気象観測の結果（高標高部）＞', titleX: 526, titleY: 738,
  legend: { x: 772, y: 719, w: 200, h: 75, first: 14, step: 23.5, line0: 12, line1: 44, text: 47 }
});
</script>
</body>
</html>
